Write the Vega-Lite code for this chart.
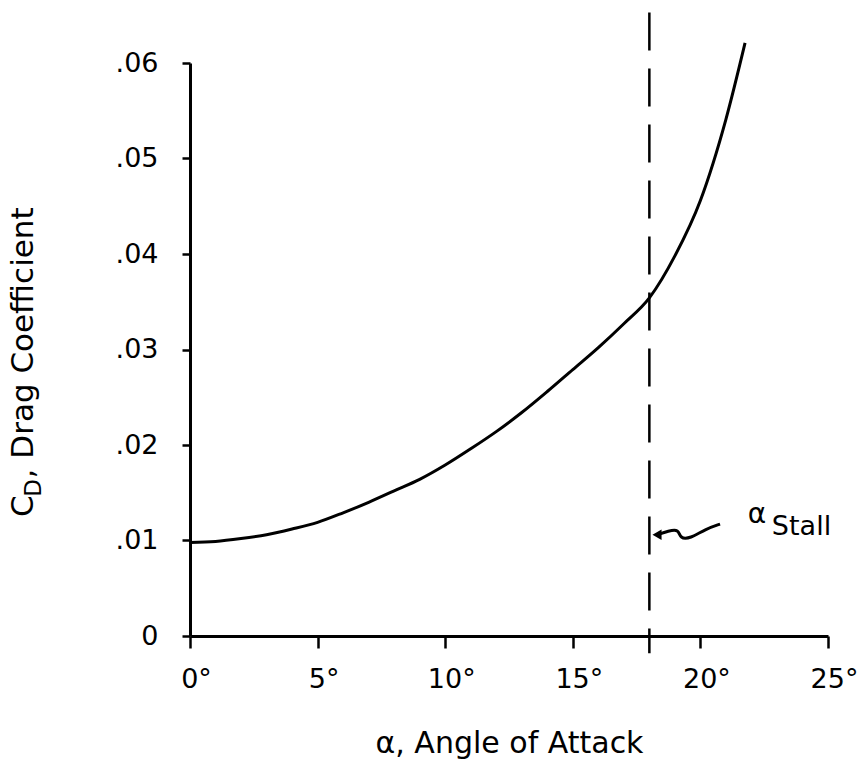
{
  "$schema": "https://vega.github.io/schema/vega-lite/v6.json",
  "width": 638,
  "height": 573,
  "autosize": {"type": "none"},
  "padding": {"left": 190, "top": 63, "right": 39, "bottom": 135},
  "background": "white",
  "config": {
    "view": {"stroke": null},
    "font": "DejaVu Sans",
    "axis": {"grid": false, "domainColor": "black", "domainWidth": 3, "tickColor": "black", "tickWidth": 2.5, "labelColor": "black", "titleColor": "black", "titleFontWeight": "normal", "labelFont": "DejaVu Sans", "titleFont": "DejaVu Sans"}
  },
  "datasets": {
    "curve": [
      {"alpha": 0, "cd": 0.0098},
      {"alpha": 1, "cd": 0.0099},
      {"alpha": 2, "cd": 0.0102},
      {"alpha": 3, "cd": 0.0106},
      {"alpha": 4, "cd": 0.0112},
      {"alpha": 5, "cd": 0.0119},
      {"alpha": 6, "cd": 0.0129},
      {"alpha": 7, "cd": 0.014},
      {"alpha": 8, "cd": 0.0152},
      {"alpha": 9, "cd": 0.0164},
      {"alpha": 10, "cd": 0.0179},
      {"alpha": 11, "cd": 0.0196},
      {"alpha": 12, "cd": 0.0214},
      {"alpha": 13, "cd": 0.0234},
      {"alpha": 14, "cd": 0.0256},
      {"alpha": 15, "cd": 0.0279},
      {"alpha": 16, "cd": 0.0302},
      {"alpha": 17, "cd": 0.0327},
      {"alpha": 18, "cd": 0.0354},
      {"alpha": 19, "cd": 0.0398},
      {"alpha": 20, "cd": 0.0456},
      {"alpha": 21, "cd": 0.0541},
      {"alpha": 21.75, "cd": 0.0621}
    ],
    "stall": [{"alpha": 18, "top": 0.0653, "bottom": -0.0018}],
    "arrow": [
      {"i": 0, "alpha": 20.77, "cd": 0.01172},
      {"i": 1, "alpha": 20.2, "cd": 0.0112},
      {"i": 2, "alpha": 19.6, "cd": 0.0102},
      {"i": 3, "alpha": 19.2, "cd": 0.0102},
      {"i": 4, "alpha": 19.15, "cd": 0.0112},
      {"i": 5, "alpha": 18.75, "cd": 0.0110},
      {"i": 6, "alpha": 18.3, "cd": 0.0106}
    ],
    "head": [{"alpha": 18.3, "cd": 0.0106}]
  },
  "layer": [
    {
      "data": {"name": "curve"},
      "mark": {"type": "line", "color": "black", "strokeWidth": 3, "interpolate": "monotone", "clip": false},
      "encoding": {
        "x": {
          "field": "alpha", "type": "quantitative",
          "scale": {"domain": [0, 25], "nice": false, "zero": false},
          "axis": {
            "values": [0, 5, 10, 15, 20, 25],
            "labelExpr": "datum.value + '°'",
            "labelFontSize": 27,
            "labelFlush": false,
            "labelOffset": 6,
            "tickSize": 12,
            "labelPadding": 18,
            "title": "α, Angle of Attack",
            "titleFontSize": 30,
            "titlePadding": 36
          }
        },
        "y": {
          "field": "cd", "type": "quantitative",
          "scale": {"domain": [0, 0.06], "nice": false},
          "axis": {
            "values": [0, 0.01, 0.02, 0.03, 0.04, 0.05, 0.06],
            "labelExpr": "datum.value == 0 ? '0' : replace(format(datum.value, '.2f'), '0.', '.')",
            "labelFontSize": 27,
            "tickSize": 8,
            "labelPadding": 24,
            "title": null
          }
        }
      }
    },
    {
      "data": {"name": "stall"},
      "mark": {"type": "rule", "color": "black", "strokeWidth": 2.5, "strokeDash": [38, 18], "clip": false},
      "encoding": {
        "x": {"field": "alpha", "type": "quantitative"},
        "y": {"field": "top", "type": "quantitative"},
        "y2": {"field": "bottom"}
      }
    },
    {
      "data": {"name": "arrow"},
      "mark": {"type": "line", "color": "black", "strokeWidth": 3, "interpolate": "basis"},
      "encoding": {
        "x": {"field": "alpha", "type": "quantitative"},
        "y": {"field": "cd", "type": "quantitative"},
        "order": {"field": "i"}
      }
    },
    {
      "data": {"name": "head"},
      "mark": {"type": "point", "shape": "triangle-left", "filled": true, "color": "black", "size": 110, "opacity": 1},
      "encoding": {
        "x": {"field": "alpha", "type": "quantitative"},
        "y": {"field": "cd", "type": "quantitative"}
      }
    },
    {
      "data": {"values": [{"alpha": 22.22, "cd": 0.0127, "t": "α"}]},
      "mark": {"type": "text", "fontSize": 28, "align": "center", "baseline": "middle", "color": "black"},
      "encoding": {
        "x": {"field": "alpha", "type": "quantitative"},
        "y": {"field": "cd", "type": "quantitative"},
        "text": {"field": "t"}
      }
    },
    {
      "data": {"values": [{"alpha": 22.8, "cd": 0.0114, "t": "Stall"}]},
      "mark": {"type": "text", "fontSize": 27, "align": "left", "baseline": "middle", "color": "black"},
      "encoding": {
        "x": {"field": "alpha", "type": "quantitative"},
        "y": {"field": "cd", "type": "quantitative"},
        "text": {"field": "t"}
      }
    },
    {
      "data": {"values": [{"alpha": -6.15, "cd": 0.0136, "t": "C"}]},
      "mark": {"type": "text", "fontSize": 31, "angle": 270, "align": "center", "baseline": "alphabetic", "color": "black"},
      "encoding": {
        "x": {"field": "alpha", "type": "quantitative"},
        "y": {"field": "cd", "type": "quantitative"},
        "text": {"field": "t"}
      }
    },
    {
      "data": {"values": [{"alpha": -5.85, "cd": 0.0155, "t": "D"}]},
      "mark": {"type": "text", "fontSize": 23, "angle": 270, "align": "center", "baseline": "alphabetic", "color": "black"},
      "encoding": {
        "x": {"field": "alpha", "type": "quantitative"},
        "y": {"field": "cd", "type": "quantitative"},
        "text": {"field": "t"}
      }
    },
    {
      "data": {"values": [{"alpha": -6.15, "cd": 0.0165, "t": ", Drag Coefficient"}]},
      "mark": {"type": "text", "fontSize": 31, "angle": 270, "align": "left", "baseline": "alphabetic", "color": "black"},
      "encoding": {
        "x": {"field": "alpha", "type": "quantitative"},
        "y": {"field": "cd", "type": "quantitative"},
        "text": {"field": "t"}
      }
    }
  ]
}
